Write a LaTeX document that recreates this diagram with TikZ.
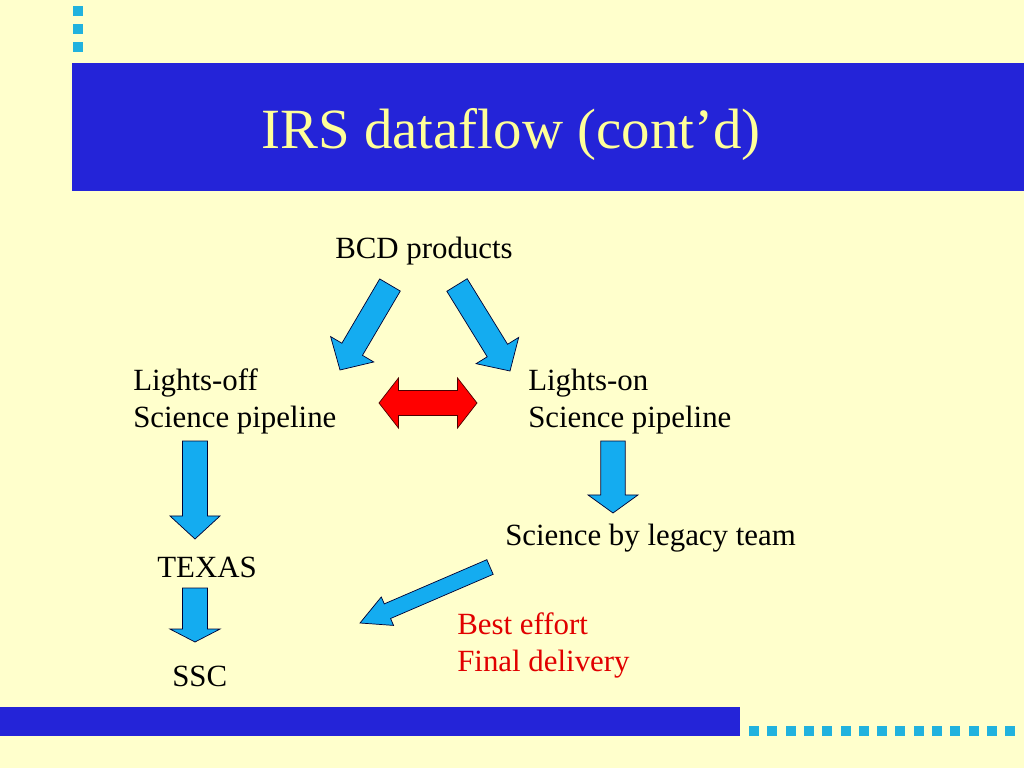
\documentclass[tikz,border=0pt]{standalone}
\usepackage{fontspec}
\setmainfont{Liberation Serif}
\usetikzlibrary{calc}
\definecolor{slidebg}{RGB}{255,255,204}
\definecolor{barblue}{RGB}{36,36,216}
\definecolor{titleyellow}{RGB}{255,255,153}
\definecolor{dotcyan}{RGB}{33,178,222}
\definecolor{arrowcyan}{RGB}{20,172,240}
\definecolor{effortred}{RGB}{225,0,0}

\tikzset{
    label/.style={anchor=base west, inner sep=0pt, align=left,
                  font=\fontsize{21.7}{26}\selectfont},
    bluearrow/.style={fill=arrowcyan, draw=black!80!blue, line width=0.5pt, line join=miter},
    redarrow/.style={fill=red, draw=black!70!red, line width=0.5pt, line join=miter},
    dot/.style={fill=dotcyan, draw=none}
}

% block arrow: [style]{from}{to}{shaft half width}{head half width}{head length}
\newcommand{\blockarrow}[6][bluearrow]{%
    \coordinate (hb) at ($(#3)!#6!(#2)$);
    \draw[#1] ($(#2)!#4!90:(#3)$) -- ($(hb)!#4!90:(#3)$) -- ($(hb)!#5!90:(#3)$) -- (#3)
        -- ($(hb)!#5!-90:(#3)$) -- ($(hb)!#4!-90:(#3)$) -- ($(#2)!#4!-90:(#3)$) -- cycle;
}
% double block arrow: [style]{end}{end}{shaft half width}{head half width}{head length}
\newcommand{\doublearrow}[6][redarrow]{%
    \coordinate (h1) at ($(#2)!#6!(#3)$);
    \coordinate (h2) at ($(#3)!#6!(#2)$);
    \draw[#1] (#2) -- ($(h1)!#5!90:(#3)$) -- ($(h1)!#4!90:(#3)$) -- ($(h2)!#4!-90:(#2)$)
        -- ($(h2)!#5!-90:(#2)$) -- (#3) -- ($(h2)!#5!90:(#2)$) -- ($(h2)!#4!90:(#2)$)
        -- ($(h1)!#4!-90:(#3)$) -- ($(h1)!#5!-90:(#3)$) -- cycle;
}

\begin{document}
\begin{tikzpicture}[x=0.703125pt, y=-0.703125pt]
            % slide background and frame
            \fill[slidebg] (0,0) rectangle (1024,768);
            \useasboundingbox (0,0) rectangle (1024,768);
            \fill[barblue] (72,63) rectangle (1024,191);
            \fill[barblue] (0,707) rectangle (740,736);
            \foreach \i in {0,1,2}
                \fill[dot] (73,6+18*\i) rectangle +(10,10);
            \foreach \i in {0,...,14}
                \fill[dot] (749+18.3*\i,726) rectangle +(10,10);

            % title
            \node[anchor=base, inner sep=0pt, text=titleyellow,
                  font=\fontsize{40}{48}\selectfont] (title) at (511,149) {IRS dataflow (cont’d)};

            % texts (multi-line nodes sit on their last baseline)
            \node[label](bcd)       at (335,259) {BCD products};
            \node[label](lightsoff) at (133,427) {Lights-off\\Science pipeline};
            \node[label](lightson)  at (528,427) {Lights-on\\Science pipeline};
            \node[label](legacy)    at (505,545) {Science by legacy team};
            \node[label](texas)     at (157,577) {TEXAS};
            \node[label](ssc)       at (172,686) {SSC};
            \node[label, text=effortred](effort) at (457,671) {Best effort\\Final delivery};

            % arrow ends
            \coordinate (bcdL)    at (390,285);
            \coordinate (offT)    at (340,370);
            \coordinate (bcdR)    at (457,285);
            \coordinate (onT)     at (510,371);
            \coordinate (offB)    at (195,441);
            \coordinate (texasT)  at (195,539);
            \coordinate (texasB)  at (195,588);
            \coordinate (sscT)    at (195,642);
            \coordinate (onB)     at (613,441);
            \coordinate (legacyT) at (613,513);
            \coordinate (legacyB) at (490,567);
            \coordinate (ssc2)    at (360,623);
            \coordinate (linkL)   at (379,403);
            \coordinate (linkR)   at (477,403);

            % arrows
            \blockarrow{bcdL}{offT}{8.4pt}{17.6pt}{16.9pt}
            \blockarrow{bcdR}{onT}{8.4pt}{17.6pt}{16.9pt}
            \blockarrow{offB}{texasT}{8.8pt}{17.6pt}{16.2pt}
            \blockarrow{texasB}{sscT}{8.8pt}{17.6pt}{9.1pt}
            \blockarrow{onB}{legacyT}{8.6pt}{17.6pt}{12.7pt}
            \blockarrow{legacyB}{ssc2}{5.6pt}{10.9pt}{21pt}
            \doublearrow{linkL}{linkR}{8.8pt}{17.6pt}{13.7pt}
        \end{tikzpicture}
\end{document}
